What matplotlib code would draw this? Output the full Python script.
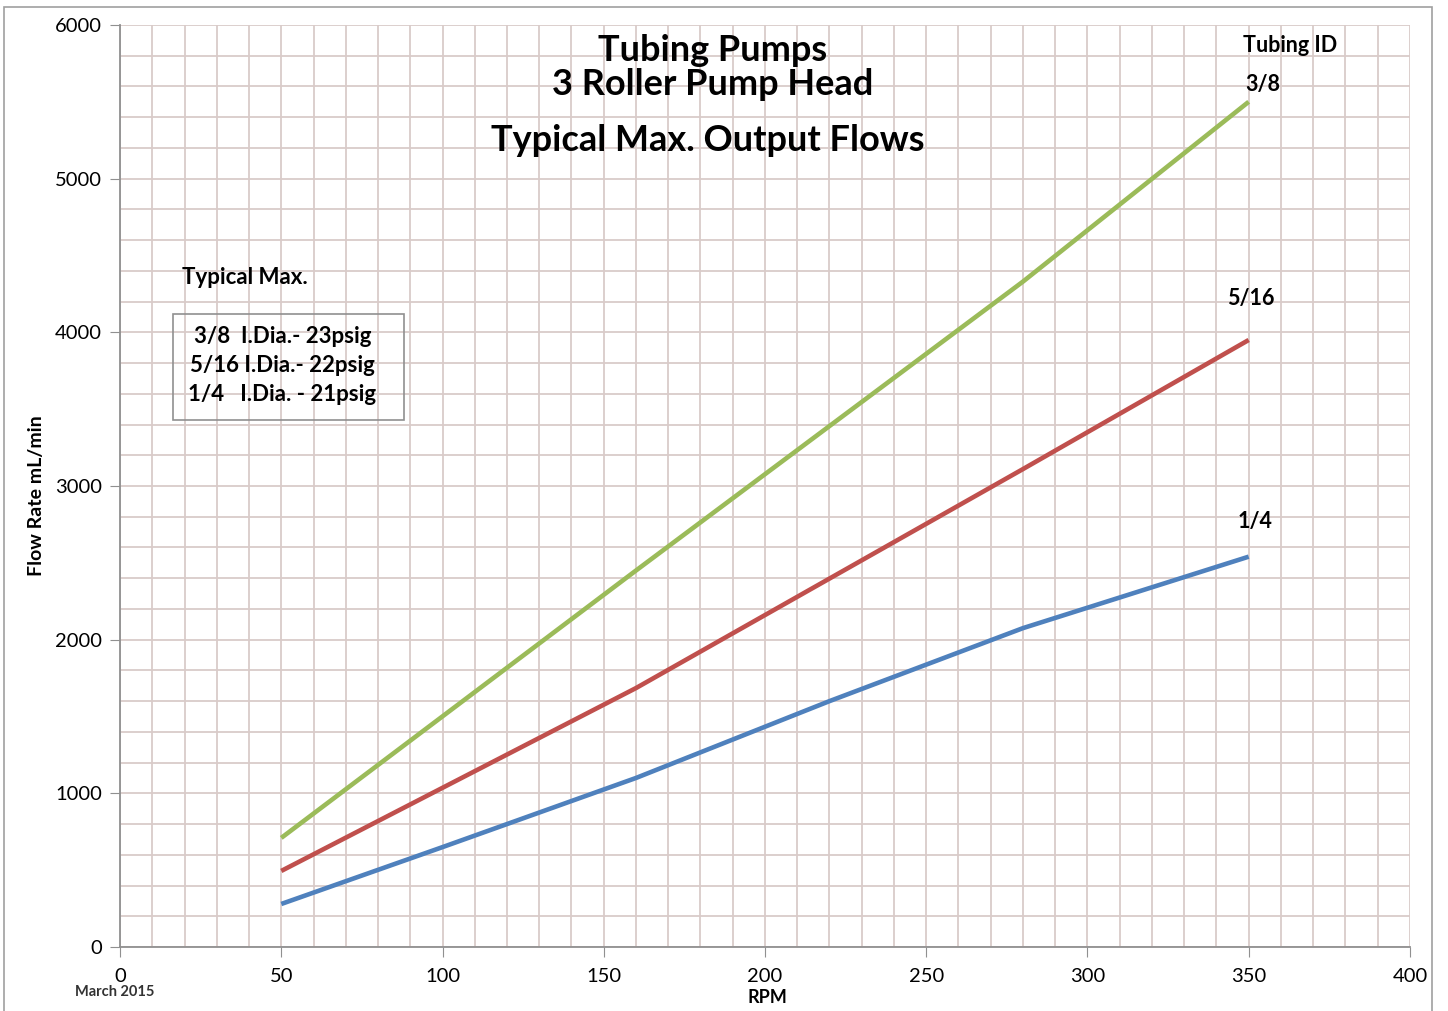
import matplotlib
matplotlib.use("Agg")
import matplotlib.pyplot as plt
from matplotlib.patches import Rectangle
from matplotlib.ticker import MultipleLocator

plt.rcParams['font.family'] = ['Lato', 'DejaVu Sans']

# data
rpm_38 = [50, 160, 280, 350]
flow_38 = [710, 2450, 4330, 5500]
rpm_516 = [50, 160, 280, 350]
flow_516 = [495, 1685, 3110, 3950]
rpm_14 = [50, 100, 160, 220, 280, 350]
flow_14 = [280, 650, 1100, 1600, 2075, 2540]

series_labels = ["3/8", "5/16", "1/4"]
series_colors = ["#9bbb59", "#c0504d", "#4f81bd"]
box_lines = ["3/8  I.Dia.- 23psig", "5/16 I.Dia.- 22psig", "1/4   I.Dia. - 21psig"]

fig = plt.figure(figsize=(14.48, 10.11), dpi=100)
ax = fig.add_axes([0.0829, 0.0633, 0.8908, 0.912])

# outer frame around the whole chart
fig.patches.append(Rectangle((0.003, -0.01), 0.986, 1.003, transform=fig.transFigure,
                             fill=False, edgecolor='#a0a0a0', linewidth=1.2))

for x, y, c in zip([rpm_38, rpm_516, rpm_14], [flow_38, flow_516, flow_14], series_colors):
    ax.plot(x, y, color=c, linewidth=3.3, solid_capstyle='butt', zorder=3)

ax.set_xlim(0, 400)
ax.set_ylim(0, 6000)
ax.xaxis.set_major_locator(MultipleLocator(50))
ax.xaxis.set_minor_locator(MultipleLocator(10))
ax.yaxis.set_major_locator(MultipleLocator(1000))
ax.yaxis.set_minor_locator(MultipleLocator(200))
ax.grid(which='both', color='#d9cbc9', linewidth=1.3)
ax.set_axisbelow(True)
ax.tick_params(which='major', length=7, color='#909090', labelsize=14.5, pad=6)
ax.tick_params(which='minor', length=0)
ax.tick_params(axis='x', pad=8)

for s in ['top', 'right']:
    ax.spines[s].set_visible(False)
for s in ['left', 'bottom']:
    ax.spines[s].set_color('#909090')
    ax.spines[s].set_linewidth(1.3)

ax.set_ylabel("Flow Rate mL/min", fontsize=14, fontweight='bold')
ax.yaxis.set_label_coords(-0.058, 0.49)
ax.set_xlabel("RPM", fontsize=13, fontweight='bold')
ax.xaxis.set_label_coords(0.5016, -0.046)

fig.text(0.492, 0.95, "Tubing Pumps", ha='center', va='center', fontsize=26, fontweight='bold')
fig.text(0.492, 0.916, "3 Roller Pump Head", ha='center', va='center', fontsize=26, fontweight='bold')
fig.text(0.489, 0.861, "Typical Max. Output Flows", ha='center', va='center', fontsize=26, fontweight='bold')

fig.text(0.891, 0.955, "Tubing ID", ha='center', va='center', fontsize=15.5, fontweight='bold')
label_pos = [(0.872, 0.916), (0.864, 0.705), (0.867, 0.484)]
for lab, (lx, ly) in zip(series_labels, label_pos):
    fig.text(lx, ly, lab, ha='center', va='center', fontsize=15.5, fontweight='bold')

fig.text(0.169, 0.726, "Typical Max.", ha='center', va='center', fontsize=16, fontweight='bold')
fig.patches.append(Rectangle((0.1195, 0.585), 0.1595, 0.104, transform=fig.transFigure,
                             facecolor='none', edgecolor='#909090', linewidth=1.2))
for i, line in enumerate(box_lines):
    fig.text(0.195, 0.667 - i * 0.0288, line, ha='center', va='center', fontsize=16, fontweight='bold')

fig.text(0.079, 0.019, "March 2015", ha='center', va='center', fontsize=10.5, fontweight='bold', color='#333333')

fig.savefig("out.png", dpi=100)
